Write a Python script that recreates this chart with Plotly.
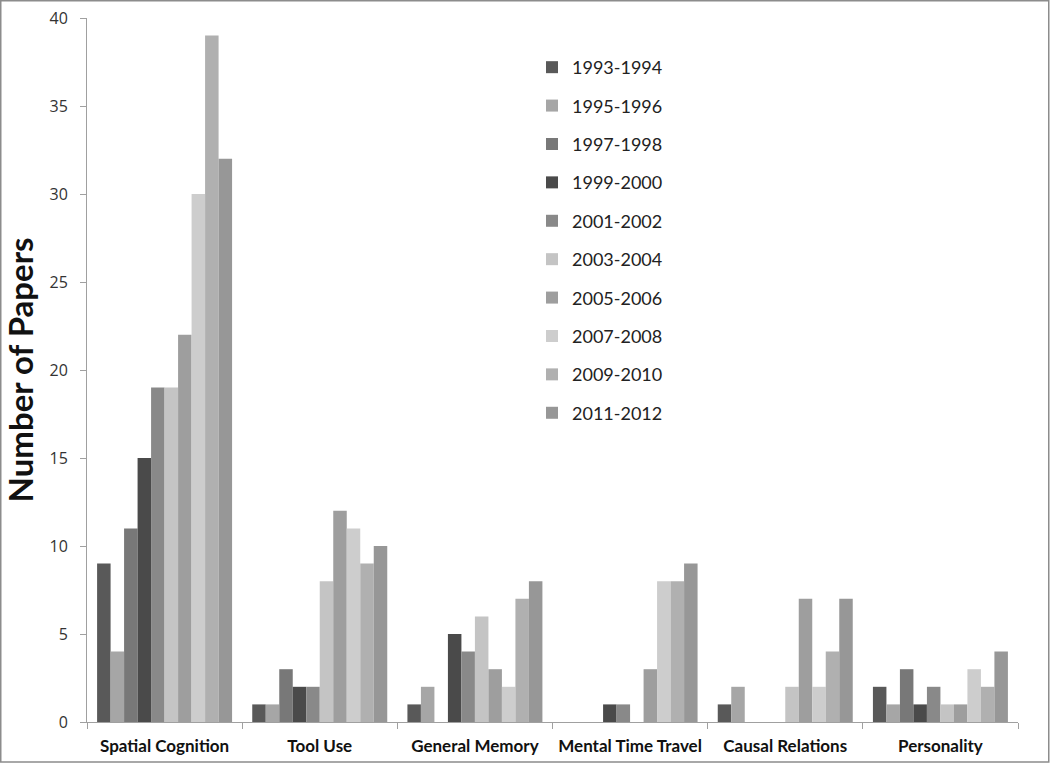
import plotly.graph_objects as go

categories = ["Spatial Cognition", "Tool Use", "General Memory", "Mental Time Travel", "Causal Relations", "Personality"]
periods = ["1993-1994", "1995-1996", "1997-1998", "1999-2000", "2001-2002",
           "2003-2004", "2005-2006", "2007-2008", "2009-2010", "2011-2012"]
v_1993 = [9, 1, 1, 0, 1, 2]
v_1995 = [4, 1, 2, 0, 2, 1]
v_1997 = [11, 3, 0, 0, 0, 3]
v_1999 = [15, 2, 5, 1, 0, 1]
v_2001 = [19, 2, 4, 1, 0, 2]
v_2003 = [19, 8, 6, 0, 2, 1]
v_2005 = [22, 12, 3, 3, 7, 1]
v_2007 = [30, 11, 2, 8, 2, 3]
v_2009 = [39, 9, 7, 8, 4, 2]
v_2011 = [32, 10, 8, 9, 7, 4]
series = [v_1993, v_1995, v_1997, v_1999, v_2001, v_2003, v_2005, v_2007, v_2009, v_2011]
colors = ["#595959", "#a6a6a6", "#787878", "#4a4a4a", "#898989",
          "#c4c4c4", "#9e9e9e", "#cdcdcd", "#b0b0b0", "#979797"]

fig = go.Figure()
for name, vals, col in zip(periods, series, colors):
    fig.add_trace(go.Bar(x=categories, y=vals, name=name, legendgroup=name,
                         marker=dict(color=col, line=dict(width=0))))

W, H = 1050, 763
L, R, T, B = 87, 32, 18, 41
pw, ph = W - L - R, H - T - B

fig.update_layout(
    width=W, height=H,
    margin=dict(l=L, r=R, t=T, b=B, autoexpand=False),
    paper_bgcolor="white", plot_bgcolor="white",
    barmode="group", bargap=0.13, bargroupgap=0,
    font=dict(family="Lato, Open Sans, sans-serif", color="#333333"),
    showlegend=True,
    legend=dict(x=0.478, y=0.956, xanchor="left", yanchor="top",
                font=dict(size=18, color="#222222", family="Lato, sans-serif"),
                tracegroupgap=12, itemwidth=30, bgcolor="rgba(0,0,0,0)"),
    xaxis=dict(showline=True, linecolor="#a0a0a0", linewidth=1, automargin=False,
               ticks="outside", tickson="boundaries", ticklen=6, tickcolor="#a0a0a0",
               ticklabelstandoff=9,
               tickfont=dict(size=17, color="#111111", family="Lato, sans-serif", weight="bold"),
               showgrid=False),
    yaxis=dict(range=[0, 40], dtick=5, showline=True, linecolor="#a0a0a0", linewidth=1,
               automargin=False, ticklabelstandoff=9,
               ticks="outside", ticklen=6, tickcolor="#a0a0a0", showgrid=False, zeroline=False,
               tickfont=dict(size=16, color="#333333", family="Open Sans, sans-serif"),
               title=dict(text="Number of Papers", standoff=8,
                          font=dict(size=33, color="#111111", family="Lato, sans-serif", weight="bold"))),
    shapes=[dict(type="rect", xref="paper", yref="paper",
                 x0=(-L + 0.75) / pw, x1=1 + (R - 1.25) / pw,
                 y0=(-B + 1) / ph, y1=1 + (T - 0.75) / ph,
                 line=dict(color="#8c8c8c", width=1.5), layer="below")],
)

fig.write_html("out.html", config={"displayModeBar": False},
               post_script="document.body.style.margin='0';document.body.style.overflow='hidden';")
